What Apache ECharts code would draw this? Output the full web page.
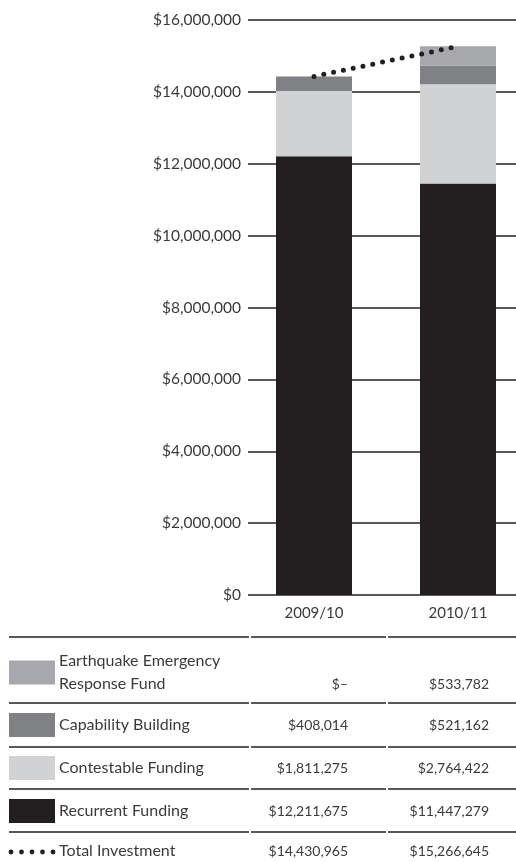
<!DOCTYPE html>
<html>
<head>
<meta charset="utf-8">
<style>
  html, body { margin: 0; padding: 0; background: #ffffff; }
  #chart { width: 516px; height: 862px; }
</style>
<script src="https://cdn.jsdelivr.net/npm/echarts@6/dist/echarts.min.js"></script>
</head>
<body>
<div id="chart"></div>
<script>
// Funding by year
const categories = ['2009/10', '2010/11'];
const recurrent = [12211675, 11447279];
const contestable = [1811275, 2764422];
const capability = [408014, 521162];
const earthquake = [0, 533782];
const total = [14430965, 15266645];

// Value axis range
const yMin = 0;
const yMax = 16000000;
const yStep = 2000000;

const seriesNames = ['Recurrent Funding', 'Contestable Funding', 'Capability Building', 'Earthquake Emergency Response Fund'];
const seriesColors = ['#231f20', '#d1d2d4', '#808184', '#a7a8ab'];
const seriesValues = [recurrent, contestable, capability, earthquake];

const FONT = 'Lato';
const TEXT = '#3b3b3b';
const INK = '#231f20';

function money(v) {
  return '$' + v.toLocaleString('en-US');
}
function cell(v) {
  return v === 0 ? '$\u2013' : money(v);
}

// Table rows, listed top to bottom
const tableRows = [
  { label: ['Earthquake Emergency', 'Response Fund'], values: earthquake, color: seriesColors[3] },
  { label: ['Capability Building'], values: capability, color: seriesColors[2] },
  { label: ['Contestable Funding'], values: contestable, color: seriesColors[1] },
  { label: ['Recurrent Funding'], values: recurrent, color: seriesColors[0] },
  { label: ['Total Investment'], values: total, dots: true }
];

const chart = echarts.init(document.getElementById('chart'), null, { renderer: 'canvas' });

// Table graphics
const ruleY = [637, 703, 747, 789, 832];
const rowCenter = [672.5, 725, 768, 811, 851];
const colRight = [348, 489];
const ruleSegments = [[9, 249], [251, 386], [388, 516]];
const graphics = [];

ruleY.forEach(function (y) {
  ruleSegments.forEach(function (s) {
    graphics.push({
      type: 'line', silent: true,
      shape: { x1: s[0], y1: y, x2: s[1], y2: y },
      style: { stroke: INK, lineWidth: 1.5 }
    });
  });
});

tableRows.forEach(function (row, i) {
  const cy = rowCenter[i];
  if (row.dots) {
    for (let k = 0; k < 5; k++) {
      graphics.push({
        type: 'circle', silent: true,
        shape: { cx: 11 + k * 10.5, cy: cy + 1, r: 2.4 },
        style: { fill: INK }
      });
    }
  } else {
    graphics.push({
      type: 'rect', silent: true,
      shape: { x: 9, y: cy - 12, width: 46, height: 24 },
      style: { fill: row.color }
    });
  }
  const lineH = 23;
  const n = row.label.length;
  row.label.forEach(function (t, j) {
    graphics.push({
      type: 'text', silent: true,
      x: 59, y: cy + (j - (n - 1) / 2) * lineH,
      style: { text: t, fill: TEXT, font: '16px ' + FONT, textVerticalAlign: 'middle', textAlign: 'left' }
    });
  });
  const valY = n > 1 ? cy + lineH / 2 : cy;
  row.values.forEach(function (v, c) {
    graphics.push({
      type: 'text', silent: true,
      x: colRight[c], y: valY,
      style: { text: cell(v), fill: TEXT, font: '14px ' + FONT, textVerticalAlign: 'middle', textAlign: 'right' }
    });
  });
});

const option = {
  backgroundColor: '#ffffff',
  animation: false,
  textStyle: { fontFamily: FONT },
  grid: [
    // value scale and gridlines
    { left: 248, right: 0, top: 20, bottom: 267 },
    // stacked columns, one column centred on each edge of this grid
    { left: 314, right: 58, top: 20, bottom: 267 }
  ],
  xAxis: [
    { gridIndex: 0, type: 'category', data: categories, show: false },
    {
      gridIndex: 1, type: 'category', data: categories, boundaryGap: false,
      axisLine: { show: false }, axisTick: { show: false },
      axisLabel: { color: TEXT, fontFamily: FONT, fontSize: 15, margin: 11 }
    }
  ],
  yAxis: [
    {
      gridIndex: 0, type: 'value', min: yMin, max: yMax, interval: yStep,
      axisLine: { show: false }, axisTick: { show: false },
      axisLabel: { color: TEXT, fontFamily: FONT, fontSize: 15.5, margin: 7, formatter: money },
      splitLine: { show: true, lineStyle: { color: INK, width: 1.5 } }
    },
    {
      gridIndex: 1, type: 'value', min: yMin, max: yMax, interval: yStep,
      show: false, splitLine: { show: false }
    }
  ],
  series: seriesNames.map(function (name, i) {
    return {
      name: name, type: 'bar', stack: 'funding',
      xAxisIndex: 1, yAxisIndex: 1,
      barWidth: 76, clip: false,
      itemStyle: { color: seriesColors[i] },
      data: seriesValues[i]
    };
  }).concat([{
    name: 'Total Investment', type: 'line',
    xAxisIndex: 1, yAxisIndex: 1, clip: false,
    data: total, symbol: 'none', z: 5,
    lineStyle: { color: INK, width: 5, type: [0, 10], cap: 'round' }
  }]),
  graphic: graphics
};

chart.setOption(option);
</script>
</body>
</html>
